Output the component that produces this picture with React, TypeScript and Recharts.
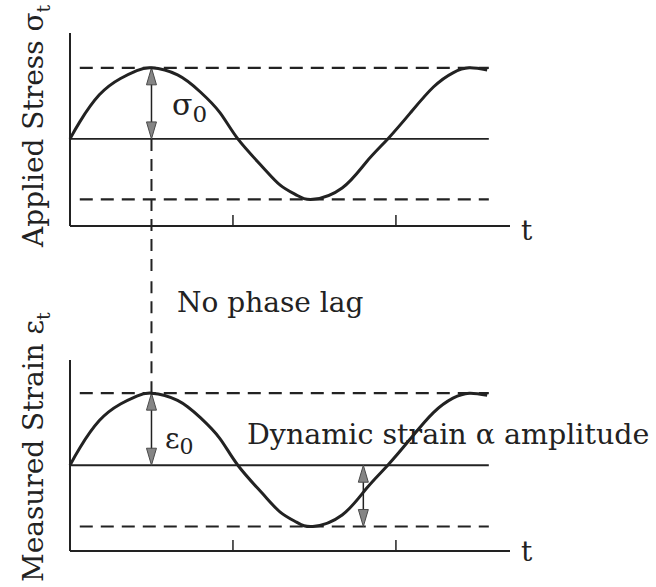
import { Line, LineChart, ReferenceLine, XAxis, YAxis } from "recharts"

// sample times (period = 2 time units, ticks at t = 1 and t = 2)
const time = [0, 0.06, 0.18, 0.31, 0.41, 0.5, 0.66, 0.8, 0.92, 1.03, 1.18, 1.29, 1.39, 1.49, 1.67, 1.82, 1.95, 2.09, 2.23, 2.35, 2.45, 2.56]
// normalised applied stress and measured strain, in phase
const stress = [0, 0.24, 0.62, 0.85, 0.96, 1.0, 0.9, 0.66, 0.37, 0, -0.39, -0.65, -0.79, -0.85, -0.69, -0.32, 0, 0.37, 0.73, 0.93, 1.0, 0.97]
const strain = [0, 0.24, 0.62, 0.85, 0.96, 1.0, 0.9, 0.66, 0.37, 0, -0.39, -0.65, -0.79, -0.85, -0.69, -0.32, 0, 0.37, 0.73, 0.93, 1.0, 0.97]
const tickTimes = [1, 2]

const PEAK_T = 0.5
const AMP_T = 1.8
const PEAK = 1
const TROUGH = -0.85
const LINE_START = 0.06
const LINE_END = 2.57

const stressData = time.map((t, i) => ({ t, value: stress[i] }))
const strainData = time.map((t, i) => ({ t, value: strain[i] }))

const INK = "#222"
const FONT = "DejaVu Serif"

// double headed arrow with grey heads, used for the amplitude markers
const Arrow = (props: any) => {
  const { x1, y1, y2 } = props
  const top = Math.min(y1, y2)
  const bot = Math.max(y1, y2)
  const len = 17
  const hw = 5
  return (
    <g>
      <line x1={x1} y1={top + 4} x2={x1} y2={bot - 4} stroke={INK} strokeWidth={1.5} />
      <polygon points={`${x1},${top} ${x1 - hw},${top + len} ${x1 + hw},${top + len}`} fill="#858585" stroke="#4a4a4a" strokeWidth={1} />
      <polygon points={`${x1},${bot} ${x1 - hw},${bot - len} ${x1 + hw},${bot - len}`} fill="#858585" stroke="#4a4a4a" strokeWidth={1} />
    </g>
  )
}

const textStyle = { fontFamily: FONT, fontSize: 28, fill: INK }

function Guides() {
  return [
    <ReferenceLine key="hi" segment={[{ x: LINE_START, y: PEAK }, { x: LINE_END, y: PEAK }]} stroke={INK} strokeWidth={2.2} strokeDasharray="13 8" />,
    <ReferenceLine key="zero" segment={[{ x: 0, y: 0 }, { x: LINE_END, y: 0 }]} stroke={INK} strokeWidth={1.8} />,
    <ReferenceLine key="lo" segment={[{ x: LINE_START, y: TROUGH }, { x: LINE_END, y: TROUGH }]} stroke={INK} strokeWidth={2.2} strokeDasharray="13 8" />,
  ]
}

export default function App() {
  return (
    <div style={{ position: "absolute", left: 0, top: 0, width: 656, height: 587, background: "#fff" }}>
      {/* applied stress */}
      <LineChart width={656} height={275} data={stressData} margin={{ top: 33, right: 146, bottom: 49, left: 0 }}>
        <XAxis dataKey="t" type="number" domain={[0, 2.7]} ticks={tickTimes} tickFormatter={() => ""} mirror tickSize={11}
          axisLine={{ stroke: INK, strokeWidth: 2 }} tickLine={{ stroke: INK, strokeWidth: 1.5 }} height={30} />
        <YAxis type="number" domain={[-1.225, 1.49]} width={70} tick={false} tickLine={false} axisLine={{ stroke: INK, strokeWidth: 2 }} />
        {Guides()}
        <ReferenceLine segment={[{ x: PEAK_T, y: 0 }, { x: PEAK_T, y: -2.5 }]} stroke={INK} strokeWidth={2} strokeDasharray="12 8" ifOverflow="visible" />
        <ReferenceLine segment={[{ x: PEAK_T, y: PEAK }, { x: PEAK_T, y: 0 }]} shape={Arrow} />
        <Line dataKey="value" type="natural" stroke={INK} strokeWidth={3} dot={false} isAnimationActive={false} />
        <text {...textStyle} transform="translate(43,247) rotate(-90)">
          Applied Stress σ<tspan fontSize={19} dy={7}>t</tspan>
        </text>
        <text {...textStyle} x={172} y={115} fontSize={30}>
          σ<tspan fontSize={23} dy={7}>0</tspan>
        </text>
        <text {...textStyle} x={521} y={240}>t</text>
      </LineChart>
      {/* measured strain */}
      <LineChart width={656} height={312} data={strainData} margin={{ top: 85, right: 146, bottom: 36, left: 0 }}>
        <XAxis dataKey="t" type="number" domain={[0, 2.7]} ticks={tickTimes} tickFormatter={() => ""} mirror tickSize={11}
          axisLine={{ stroke: INK, strokeWidth: 2 }} tickLine={{ stroke: INK, strokeWidth: 1.5 }} height={30} />
        <YAxis type="number" domain={[-1.19, 1.46]} width={70} tick={false} tickLine={false} axisLine={{ stroke: INK, strokeWidth: 2 }} />
        {Guides()}
        <ReferenceLine segment={[{ x: PEAK_T, y: PEAK }, { x: PEAK_T, y: 2.6 }]} stroke={INK} strokeWidth={2} strokeDasharray="12 8" ifOverflow="visible" />
        <ReferenceLine segment={[{ x: PEAK_T, y: PEAK }, { x: PEAK_T, y: 0 }]} shape={Arrow} />
        <ReferenceLine segment={[{ x: AMP_T, y: 0 }, { x: AMP_T, y: TROUGH }]} shape={Arrow} />
        <Line dataKey="value" type="natural" stroke={INK} strokeWidth={3} dot={false} isAnimationActive={false} />
        <text {...textStyle} transform="translate(43,307) rotate(-90)">
          Measured Strain ε<tspan fontSize={19} dy={7}>t</tspan>
        </text>
        <text {...textStyle} x={177} y={37}>No phase lag</text>
        <text {...textStyle} x={165} y={173}>
          ε<tspan fontSize={22} dy={6}>0</tspan>
        </text>
        <text {...textStyle} x={247} y={169} fontSize={28.5} stroke="#fff" strokeWidth={8} paintOrder="stroke" strokeLinejoin="round">
          Dynamic strain α amplitude
        </text>
        <text {...textStyle} x={521} y={286}>t</text>
      </LineChart>
    </div>
  )
}
